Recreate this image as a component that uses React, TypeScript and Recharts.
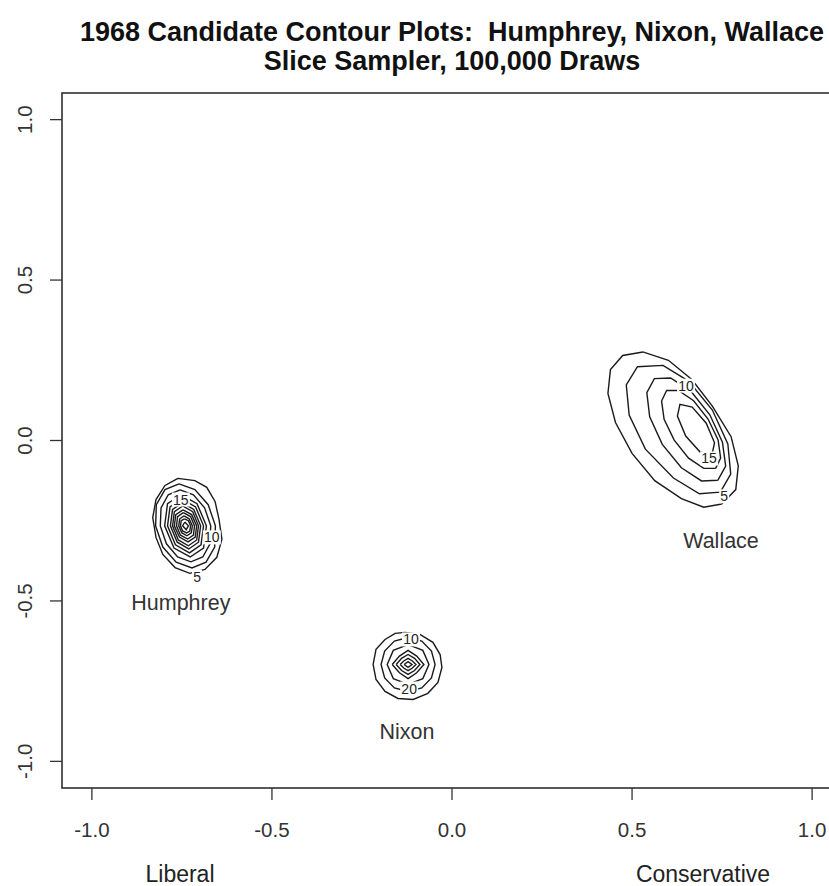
import React from "react";
import { ScatterChart, Scatter, XAxis, YAxis, ReferenceArea } from "recharts";

// axis ticks, same on both axes
const xTicks = [-1, -0.5, 0, 0.5, 1];
const yTicks = [-1, -0.5, 0, 0.5, 1];
const axisDomain: [number, number] = [-1.083, 1.083];

// contour lines, outermost first
const humphreyContours: number[][][] = [
  [[-0.761, -0.118], [-0.714, -0.125], [-0.681, -0.146], [-0.658, -0.19], [-0.647, -0.246], [-0.639, -0.308], [-0.653, -0.364], [-0.686, -0.402], [-0.728, -0.414], [-0.769, -0.396], [-0.803, -0.355], [-0.822, -0.302], [-0.831, -0.24], [-0.822, -0.184], [-0.797, -0.14]],
  [[-0.758, -0.135], [-0.714, -0.153], [-0.677, -0.2], [-0.657, -0.266], [-0.659, -0.332], [-0.683, -0.379], [-0.722, -0.397], [-0.766, -0.379], [-0.803, -0.332], [-0.823, -0.266], [-0.821, -0.2], [-0.797, -0.153]],
  [[-0.755, -0.154], [-0.718, -0.169], [-0.687, -0.21], [-0.67, -0.266], [-0.672, -0.322], [-0.692, -0.363], [-0.725, -0.378], [-0.762, -0.363], [-0.793, -0.322], [-0.81, -0.266], [-0.808, -0.21], [-0.788, -0.169]],
  [[-0.753, -0.169], [-0.708, -0.197], [-0.682, -0.266], [-0.69, -0.335], [-0.727, -0.363], [-0.772, -0.335], [-0.798, -0.266], [-0.79, -0.197]],
  [[-0.751, -0.182], [-0.712, -0.207], [-0.69, -0.266], [-0.697, -0.325], [-0.729, -0.35], [-0.768, -0.325], [-0.79, -0.266], [-0.783, -0.207]],
  [[-0.749, -0.194], [-0.717, -0.215], [-0.698, -0.266], [-0.704, -0.317], [-0.731, -0.338], [-0.763, -0.317], [-0.782, -0.266], [-0.776, -0.215]],
  [[-0.748, -0.204], [-0.72, -0.222], [-0.704, -0.266], [-0.709, -0.31], [-0.732, -0.328], [-0.76, -0.31], [-0.776, -0.266], [-0.771, -0.222]],
  [[-0.747, -0.216], [-0.723, -0.231], [-0.709, -0.266], [-0.713, -0.301], [-0.733, -0.316], [-0.757, -0.301], [-0.771, -0.266], [-0.767, -0.231]],
  [[-0.746, -0.225], [-0.726, -0.237], [-0.715, -0.266], [-0.718, -0.295], [-0.734, -0.307], [-0.754, -0.295], [-0.765, -0.266], [-0.762, -0.237]],
  [[-0.744, -0.235], [-0.73, -0.244], [-0.721, -0.266], [-0.724, -0.288], [-0.736, -0.297], [-0.75, -0.288], [-0.759, -0.266], [-0.756, -0.244]],
  [[-0.743, -0.244], [-0.732, -0.25], [-0.726, -0.266], [-0.728, -0.282], [-0.737, -0.288], [-0.748, -0.282], [-0.754, -0.266], [-0.752, -0.25]],
  [[-0.742, -0.254], [-0.732, -0.266], [-0.738, -0.278], [-0.748, -0.266]],
];

const nixonContours: number[][][] = [
  [[-0.131, -0.598], [-0.089, -0.604], [-0.053, -0.629], [-0.033, -0.667], [-0.028, -0.707], [-0.039, -0.754], [-0.067, -0.788], [-0.108, -0.807], [-0.15, -0.804], [-0.186, -0.782], [-0.211, -0.745], [-0.219, -0.698], [-0.211, -0.651], [-0.186, -0.62], [-0.158, -0.601]],
  [[-0.122, -0.614], [-0.084, -0.625], [-0.057, -0.656], [-0.047, -0.698], [-0.057, -0.74], [-0.084, -0.771], [-0.122, -0.782], [-0.16, -0.771], [-0.187, -0.74], [-0.197, -0.698], [-0.187, -0.656], [-0.16, -0.625]],
  [[-0.122, -0.636], [-0.081, -0.654], [-0.064, -0.698], [-0.081, -0.742], [-0.122, -0.76], [-0.163, -0.742], [-0.18, -0.698], [-0.163, -0.654]],
  [[-0.166, -0.698], [-0.146, -0.672], [-0.122, -0.654], [-0.098, -0.672], [-0.078, -0.698], [-0.098, -0.724], [-0.122, -0.742], [-0.146, -0.724]],
  [[-0.155, -0.698], [-0.14, -0.679], [-0.122, -0.667], [-0.104, -0.679], [-0.089, -0.698], [-0.104, -0.717], [-0.122, -0.729], [-0.14, -0.717]],
  [[-0.144, -0.698], [-0.134, -0.687], [-0.122, -0.679], [-0.11, -0.687], [-0.1, -0.698], [-0.11, -0.709], [-0.122, -0.717], [-0.134, -0.709]],
  [[-0.133, -0.698], [-0.122, -0.689], [-0.111, -0.698], [-0.122, -0.707]],
];

const wallaceContours: number[][][] = [
  [[0.749, -0.198], [0.699, -0.208], [0.637, -0.181], [0.563, -0.125], [0.5, -0.04], [0.454, 0.056], [0.433, 0.147], [0.44, 0.221], [0.474, 0.265], [0.53, 0.276], [0.601, 0.25], [0.666, 0.19], [0.723, 0.107], [0.775, 0.012], [0.795, -0.079], [0.788, -0.153]],
  [[0.745, -0.161], [0.687, -0.166], [0.615, -0.117], [0.537, -0.027], [0.492, 0.079], [0.484, 0.173], [0.515, 0.23], [0.586, 0.234], [0.657, 0.185], [0.723, 0.095], [0.766, -0.011], [0.774, -0.105]],
  [[0.738, -0.124], [0.693, -0.126], [0.637, -0.085], [0.584, -0.012], [0.549, 0.074], [0.541, 0.149], [0.562, 0.193], [0.607, 0.195], [0.663, 0.154], [0.716, 0.08], [0.751, -0.005], [0.76, -0.08]],
  [[0.732, -0.087], [0.699, -0.087], [0.657, -0.055], [0.617, 0.001], [0.589, 0.066], [0.582, 0.123], [0.596, 0.156], [0.629, 0.156], [0.671, 0.124], [0.711, 0.067], [0.739, 0.002], [0.746, -0.055]],
  [[0.722, -0.045], [0.689, -0.036], [0.649, 0.014], [0.626, 0.076], [0.633, 0.113], [0.667, 0.104], [0.706, 0.054], [0.729, -0.007]],
];

// level labels sitting on the contour lines
const contourLabels = [
  { x: -0.708, y: -0.424, label: "5" },
  { x: -0.667, y: -0.302, label: "10" },
  { x: -0.753, y: -0.184, label: "15" },
  { x: -0.114, y: -0.62, label: "10" },
  { x: -0.119, y: -0.773, label: "20" },
  { x: 0.65, y: 0.171, label: "10" },
  { x: 0.714, y: -0.056, label: "15" },
  { x: 0.756, y: -0.174, label: "5" },
];

const candidateNames = [
  { x: -0.753, y: -0.505, label: "Humphrey" },
  { x: -0.125, y: -0.91, label: "Nixon" },
  { x: 0.747, y: -0.312, label: "Wallace" },
];

const FONT = "'Liberation Sans', Arial, Helvetica, sans-serif";

const toPoints = (ring: number[][]) =>
  [...ring, ring[0]].map(([x, y]) => ({ x, y }));

const allContours = [
  ...humphreyContours.map((r, i) => ({ key: `h${i}`, data: toPoints(r) })),
  ...nixonContours.map((r, i) => ({ key: `n${i}`, data: toPoints(r) })),
  ...wallaceContours.map((r, i) => ({ key: `w${i}`, data: toPoints(r) })),
];

const NoDot = () => <g />;

function LevelLabel(props: any) {
  const { cx, cy, payload } = props;
  const w = payload.label.length * 8 + 2;
  return (
    <g>
      <rect x={cx - w / 2} y={cy - 7} width={w} height={14} fill="#fff" />
      <text x={cx} y={cy + 5} textAnchor="middle" fontSize={14} fill="#222" fontFamily={FONT}>
        {payload.label}
      </text>
    </g>
  );
}

function NameLabel(props: any) {
  const { cx, cy, payload } = props;
  return (
    <text x={cx} y={cy + 7} textAnchor="middle" fontSize={21.5} fill="#333" fontFamily={FONT}>
      {payload.label}
    </text>
  );
}

function XTick({ x, y, payload }: any) {
  return (
    <text x={x} y={y + 35} textAnchor="middle" fontSize={20.5} fill="#333" fontFamily={FONT}>
      {payload.value.toFixed(1)}
    </text>
  );
}

function YTick({ x, y, payload }: any) {
  const bx = x - 16;
  return (
    <text x={bx} y={y} transform={`rotate(-90, ${bx}, ${y})`} textAnchor="middle" fontSize={20.5} fill="#333" fontFamily={FONT}>
      {payload.value.toFixed(1)}
    </text>
  );
}

const axisTitle: React.CSSProperties = {
  position: "absolute",
  top: 863,
  transform: "translateX(-50%)",
  fontFamily: FONT,
  fontSize: 23,
  lineHeight: "22px",
  color: "#222",
  whiteSpace: "nowrap",
};

export default function App() {
  return (
    <div style={{ position: "fixed", left: 0, top: 0, width: 829, height: 886, overflow: "hidden", background: "#fff" }}>
      <div style={{ position: "absolute", left: 0, width: 904, top: 18, textAlign: "center", fontFamily: FONT, fontWeight: "bold", fontSize: 27, lineHeight: "29px", color: "#111", whiteSpace: "nowrap" }}>
        1968 Candidate Contour Plots:&nbsp; Humphrey, Nixon, Wallace
        <br />
        Slice Sampler, 100,000 Draws
      </div>
      <ScatterChart width={860} height={886} margin={{ top: 93, right: 18, bottom: 38, left: 22 }}>
        <XAxis
          type="number"
          dataKey="x"
          domain={axisDomain}
          ticks={xTicks}
          allowDataOverflow
          axisLine={false}
          tickSize={12}
          tickLine={{ stroke: "#333", strokeWidth: 1.3 }}
          tick={<XTick />}
          height={60}
          interval={0}
        />
        <YAxis
          type="number"
          dataKey="y"
          domain={axisDomain}
          ticks={yTicks}
          allowDataOverflow
          axisLine={false}
          tickSize={12}
          tickLine={{ stroke: "#333", strokeWidth: 1.3 }}
          tick={<YTick />}
          width={40}
          interval={0}
        />
        <ReferenceArea x1={axisDomain[0]} x2={axisDomain[1]} y1={axisDomain[0]} y2={axisDomain[1]} fill="none" stroke="#222" strokeWidth={1.5} />
        {allContours.map((c) => (
          <Scatter
            key={c.key}
            data={c.data}
            line={{ stroke: "#1a1a1a", strokeWidth: 1.4 }}
            lineType="joint"
            shape={NoDot}
            isAnimationActive={false}
          />
        ))}
        <Scatter data={contourLabels} shape={LevelLabel} isAnimationActive={false} />
        <Scatter data={candidateNames} shape={NameLabel} isAnimationActive={false} />
      </ScatterChart>
      <div style={{ ...axisTitle, left: 180 }}>Liberal</div>
      <div style={{ ...axisTitle, left: 703 }}>Conservative</div>
    </div>
  );
}
